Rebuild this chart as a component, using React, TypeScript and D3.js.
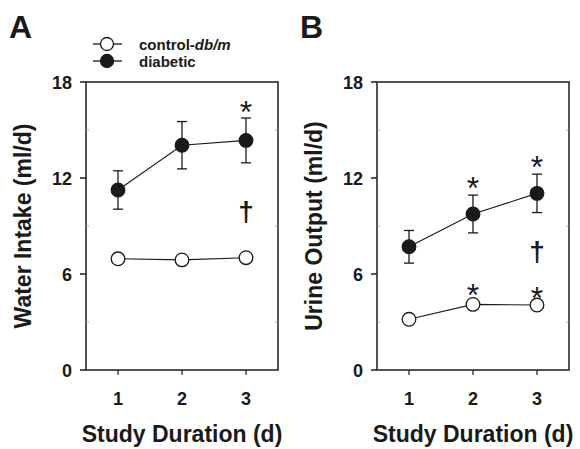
import * as d3 from "d3";
import React from "react";

// study days
const days = [1, 2, 3];
const yTicks = [0, 6, 12, 18];
const yMinorTicks = [3, 9, 15];

// panel A - water intake (ml/d)
const waterControl = [6.95, 6.88, 7.02];
const waterControlErr = [0.2, 0.2, 0.2];
const waterDiabetic = [11.25, 14.05, 14.35];
const waterDiabeticErr = [1.2, 1.48, 1.4];

// panel B - urine output (ml/d)
const urineControl = [3.17, 4.1, 4.06];
const urineControlErr = [0.15, 0.15, 0.15];
const urineDiabetic = [7.7, 9.75, 11.04];
const urineDiabeticErr = [1.02, 1.18, 1.2];

// significance marks: [day, value]
const waterStars = [[3, 16.55]];
const waterDaggers = [[3, 9.9]];
const urineStars = [[2, 11.8], [3, 13.1], [2, 5.1], [3, 4.95]];
const urineDaggers = [[3, 7.4]];

const font = "'Liberation Sans', Arial, sans-serif";

const Panel = ({left, letter, yLabel, control, controlErr, diabetic, diabeticErr, stars, daggers}) => {
  const top = 82, bottom = 370, w = 192;
  const x = d3.scaleLinear().domain([0.5, 3.5]).range([left, left + w]);
  const y = d3.scaleLinear().domain([0, 18]).range([bottom, top]);
  const line = d3.line<number>().x((d, i) => x(days[i])).y(d => y(d));

  const series = (vals, errs, fill) => (
    <g>
      {vals.map((v, i) => (
        <g key={"e" + i} stroke="#1a1a1a" strokeWidth={1.3}>
          <line x1={x(days[i])} x2={x(days[i])} y1={y(v - errs[i])} y2={y(v + errs[i])} />
          <line x1={x(days[i]) - 5} x2={x(days[i]) + 5} y1={y(v + errs[i])} y2={y(v + errs[i])} />
          <line x1={x(days[i]) - 5} x2={x(days[i]) + 5} y1={y(v - errs[i])} y2={y(v - errs[i])} />
        </g>
      ))}
      <path d={line(vals)} fill="none" stroke="#1a1a1a" strokeWidth={1.1} />
      {vals.map((v, i) => (
        <circle key={"c" + i} cx={x(days[i])} cy={y(v)} r={6.8} fill={fill} stroke="#1a1a1a" strokeWidth={1.3} />
      ))}
    </g>
  );

  return (
    <g fontFamily={font} fill="#1a1a1a">
      <text x={left - 77} y={38} fontSize={32} fontWeight="bold">{letter}</text>
      {/* frame */}
      <rect x={left} y={top} width={w} height={bottom - top} fill="none" stroke="#2a2a2a" strokeWidth={1.6} />
      {yTicks.map(t => (
        <g key={t}>
          <line x1={left - 6} x2={left} y1={y(t)} y2={y(t)} stroke="#2a2a2a" strokeWidth={1.6} />
          <text x={left - 14} y={y(t) + 6.5} fontSize={18} fontWeight="bold" textAnchor="end">{t}</text>
        </g>
      ))}
      {yMinorTicks.map(t => (
        <g key={"m" + t} stroke="#999" strokeWidth={0.8}>
          <line x1={left} x2={left + 3} y1={y(t)} y2={y(t)} />
          <line x1={left + w - 3} x2={left + w} y1={y(t)} y2={y(t)} />
        </g>
      ))}
      {days.map(d => (
        <g key={d}>
          <line x1={x(d)} x2={x(d)} y1={bottom} y2={bottom + 5} stroke="#2a2a2a" strokeWidth={1.3} />
          <text x={x(d)} y={405} fontSize={18} fontWeight="bold" textAnchor="middle">{d}</text>
        </g>
      ))}
      <text x={left + w / 2} y={442} fontSize={23} fontWeight="bold" textAnchor="middle">Study Duration (d)</text>
      <text transform={`translate(${left - 55},${(top + bottom) / 2}) rotate(-90)`} fontSize={23} fontWeight="bold" textAnchor="middle">{yLabel}</text>
      {series(control, controlErr, "#fff")}
      {series(diabetic, diabeticErr, "#1a1a1a")}
      {stars.map(([d, v], i) => (
        <text key={"s" + i} x={x(d)} y={y(v) + 18} fontSize={32} textAnchor="middle">*</text>
      ))}
      {daggers.map(([d, v], i) => (
        <text key={"g" + i} x={x(d)} y={y(v) + 9} fontSize={28} fontWeight="bold" textAnchor="middle">†</text>
      ))}
    </g>
  );
};

export default function App() {
  return (
    <svg width={580} height={449} style={{position: "absolute", left: 0, top: 0, background: "#fff"}}>
      <Panel left={86} letter="A" yLabel="Water Intake (ml/d)" control={waterControl} controlErr={waterControlErr}
        diabetic={waterDiabetic} diabeticErr={waterDiabeticErr} stars={waterStars} daggers={waterDaggers} />
      <Panel left={377} letter="B" yLabel="Urine Output (ml/d)" control={urineControl} controlErr={urineControlErr}
        diabetic={urineDiabetic} diabeticErr={urineDiabeticErr} stars={urineStars} daggers={urineDaggers} />
      {/* legend */}
      <g fontFamily={font} fill="#1a1a1a" fontSize={15} fontWeight="bold">
        <line x1={93} x2={122} y1={44} y2={44} stroke="#1a1a1a" strokeWidth={1.3} />
        <circle cx={107} cy={44} r={6.5} fill="#fff" stroke="#1a1a1a" strokeWidth={1.3} />
        <text x={139} y={49.5}>control-<tspan fontStyle="italic">db/m</tspan></text>
        <line x1={93} x2={122} y1={61} y2={61} stroke="#1a1a1a" strokeWidth={1.3} />
        <circle cx={107} cy={61} r={6.5} fill="#1a1a1a" stroke="#1a1a1a" strokeWidth={1.3} />
        <text x={139} y={66.5}>diabetic</text>
      </g>
    </svg>
  );
}
